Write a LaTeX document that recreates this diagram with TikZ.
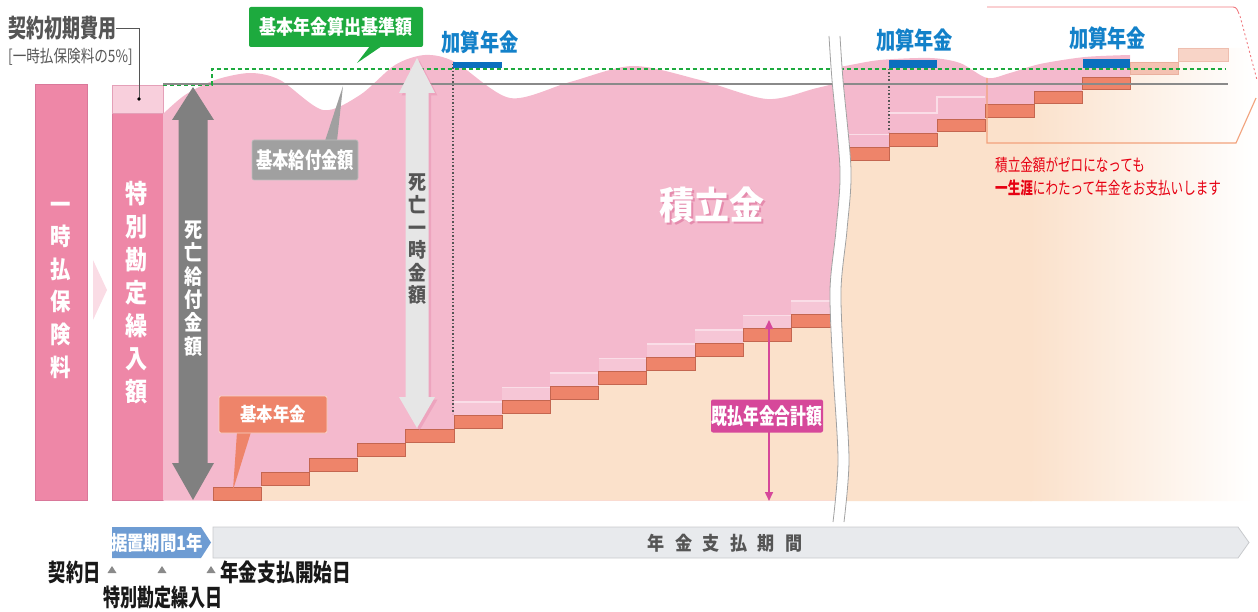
\documentclass[tikz,border=0pt]{standalone}
\usepackage{fontspec}
\setmainfont{Noto Sans CJK JP}
\usepackage{graphicx}
\usetikzlibrary{arrows.meta}
\definecolor{pinkcol}{HTML}{EE87A7}
\definecolor{pinkedge}{HTML}{D9789A}
\definecolor{pinklt}{HTML}{F8CFDC}
\definecolor{pinkarea}{HTML}{F4B9CD}
\definecolor{ghostcol}{HTML}{F6C6D6}
\definecolor{ghostline}{HTML}{FADDE7}
\definecolor{peach}{HTML}{FBE1CB}
\definecolor{stairc}{HTML}{EE846A}
\definecolor{staird}{HTML}{C46650}
\definecolor{stairg}{HTML}{F4C2B2}
\definecolor{stairh}{HTML}{F8D4C7}
\definecolor{darkarrow}{HTML}{808080}
\definecolor{lightarrow}{HTML}{E6E6E6}
\definecolor{greenc}{HTML}{1DAA3E}
\definecolor{bluebar}{HTML}{0B6FBF}
\definecolor{bluetext}{HTML}{1381C9}
\definecolor{magc}{HTML}{D6489A}
\definecolor{redtext}{HTML}{E60012}
\definecolor{redline}{HTML}{F07A80}
\definecolor{orgline}{HTML}{F2A27C}
\definecolor{calloutgray}{HTML}{A0A0A0}
\definecolor{textgray}{HTML}{555555}
\definecolor{blueperiod}{HTML}{6E9CD3}
\definecolor{barfill}{HTML}{E8EAED}
\definecolor{barline}{HTML}{C8CACD}
\definecolor{chev}{HTML}{FADCE5}
\definecolor{linegray}{HTML}{8A8A8A}
\definecolor{fundshadow}{HTML}{E58BAD}
\newcommand{\sx}[2]{\scalebox{#1}[1]{#2}}
\newcommand{\fs}[2]{\fontsize{#1}{#2}\selectfont}
\begin{document}
\begin{tikzpicture}[x=1pt,y=-1pt,
  lbl/.style={inner sep=0pt},
  stairbox/.style={fill=stairc, draw=staird, line width=0.7pt},
  ghostbox/.style={fill=ghostcol},
  callbox/.style={rounded corners=2pt, inner sep=0pt, text=white},
  brkline/.style={draw=linegray!80, line width=0.8pt},
  tri/.style={fill=linegray},
]
\useasboundingbox (0,0) rectangle (1258,612);

% ---------- left columns ----------
\filldraw[fill=pinkcol, draw=pinkedge, line width=0.6pt] (35,84) rectangle (87,500);
\filldraw[fill=pinkcol, draw=pinkedge, line width=0.6pt] (112,113) rectangle (163,500);
\filldraw[fill=pinklt, draw=pinkedge!70, line width=0.6pt] (112,85) rectangle (163,113);
\fill[chev] (93,260) -- (107,290) -- (93,320) -- cycle;

% ---------- left chart area ----------
\begin{scope}
\clip (0,0) -- (829,0) -- plot[smooth] coordinates {(829,36) (832,80) (840,170) (836,230) (830,290) (833,370) (838,460) (833,522)} -- (833,612) -- (0,612) -- cycle;
\fill[pinkarea] plot[smooth] coordinates {(163,114) (185,95) (215,80) (250,73) (280,80) (323,110) (360,95) (395,65) (425,55) (455,62) (510,98) (570,82) (633,66) (700,80) (767,99) (817,88) (870,75)} -- (870,500.5) -- (163,500.5) -- cycle;
\fill[peach] (213,500.5) \foreach \i in {0,...,12} { -- ({213+48.2*\i},{487-14.4*\i}) -- ({261.2+48.2*\i},{487-14.4*\i}) } -- (870,314.2) -- (870,500.5) -- cycle;
\foreach \i in {5,...,12} {
  \fill[ghostcol] ({213+48.2*\i},{473-14.4*\i}) rectangle ({261.2+48.2*\i},{487-14.4*\i});
  \draw[ghostline, line width=1.6pt] ({213+48.2*\i},{473.8-14.4*\i}) -- ({261.2+48.2*\i},{473.8-14.4*\i});
}
\foreach \i in {0,...,12}
  \draw[stairbox] ({213+48.2*\i},{487-14.4*\i}) rectangle ({261.2+48.2*\i},{500-14.4*\i});
\end{scope}

% ---------- right chart area ----------
\begin{scope}
\clip (1258,0) -- (840,0) -- plot[smooth] coordinates {(840,36) (843,80) (851,170) (847,230) (841,290) (844,370) (849,460) (844,522)} -- (844,612) -- (1258,612) -- cycle;
\begin{scope}
\clip (820,501) -- (820,147) -- (889,147) -- (889,133) -- (937,133) -- (937,119) -- (985,119) -- (985,104) -- (1034,104) -- (1034,91) -- (1082,91) -- (1082,77) -- (1130,77) -- (1130,62) -- (1178,62) -- (1178,48) -- (1256,48) -- (1256,501) -- cycle;
\fill[peach] (820,0) rectangle (1032,510);
\shade[left color=peach, right color=white] (1030,0) rectangle (1254,510);
\end{scope}
\fill[pinkarea] (820,147) -- (889,147) -- (889,133) -- (937,133) -- (937,119) -- (985,119) -- (985,104) -- (1034,104) -- (1034,91) -- (1082,91) -- (1082,77) -- (1130,77) -- (1130,55) -- plot[smooth] coordinates {(1130,55) (1085,57) (1040,64) (1010,73) (987,78) (960,63) (930,58) (880,60) (845,66) (820,70)} -- cycle;
\draw[ghostline, line width=1.6pt] (846,134.5) -- (889,134.5);
\draw[ghostline, line width=1.6pt] (889,113) -- (937,113) -- (937,97) -- (985,97);
\draw[stairbox] (846,147) rectangle (889,160);
\draw[stairbox] (889,133) rectangle (937,146);
\draw[stairbox] (937,119) rectangle (985,131.5);
\draw[stairbox] (985,104) rectangle (1034,117);
\draw[stairbox] (1034,91) rectangle (1082,103);
\draw[stairbox] (1082,77) rectangle (1130,89);
\filldraw[fill=stairg, draw=stairg!80!staird, line width=0.6pt] (1130,62) rectangle (1178,74);
\filldraw[fill=stairh, draw=stairh!80!staird, line width=0.6pt] (1178,48) rectangle (1228,61);
\end{scope}

% ---------- red box (lifelong) ----------
\draw[redline, line width=0.9pt] (987,7) -- (1233,7) to[out=0,in=110] (1239,14);
\draw[redline, line width=0.9pt, dash pattern=on 2pt off 2.5pt] (1240,16) -- (1257,80);
\draw[orgline, line width=1.1pt] (987,78) -- (987,143) -- (1236,143) -- (1256,98);

% ---------- dotted guides ----------
\draw[textgray, line width=1.3pt, dash pattern=on 1.3pt off 2.2pt] (453,64) -- (453,414);
\draw[textgray, line width=1.3pt, dash pattern=on 1.3pt off 2.2pt] (889,69) -- (889,132);

% ---------- reference lines ----------
\draw[linegray, line width=1.4pt] (163,84) -- (1228,84);
\draw[greenc, line width=1.4pt, dash pattern=on 4pt off 3pt] (163,85.5) -- (212,85.5) -- (212,69) -- (1225,69);

% ---------- blue bars ----------
\fill[bluebar] (453,62) rectangle (502,68);
\fill[bluebar] (889,60) rectangle (937,68);
\fill[bluebar] (1083,59) rectangle (1130,68);

% ---------- break band ----------
\fill[white] plot[smooth] coordinates {(829,36) (832,80) (840,170) (836,230) (830,290) (833,370) (838,460) (833,522)} -- plot[smooth] coordinates {(844,522) (849,460) (844,370) (841,290) (847,230) (851,170) (843,80) (840,36)} -- cycle;
\draw[brkline] plot[smooth] coordinates {(829,36) (832,80) (840,170) (836,230) (830,290) (833,370) (838,460) (833,522)};
\draw[brkline] plot[smooth] coordinates {(840,36) (843,80) (851,170) (847,230) (841,290) (844,370) (849,460) (844,522)};

% ---------- arrows ----------
\fill[darkarrow] (193,87) -- (214,120) -- (207.5,120) -- (207.5,463) -- (214,463) -- (193,500) -- (172,463) -- (178.5,463) -- (178.5,120) -- (172,120) -- cycle;
\fill[fundshadow, opacity=0.45] (419.5,60.5) -- (437.5,95.5) -- (431,95.5) -- (431,399.5) -- (437.5,399.5) -- (419.5,430.5) -- (401.5,399.5) -- (408,399.5) -- (408,95.5) -- (401.5,95.5) -- cycle;
\fill[lightarrow] (417,58) -- (435,93) -- (428.5,93) -- (428.5,397) -- (435,397) -- (417,428) -- (399,397) -- (405.5,397) -- (405.5,93) -- (399,93) -- cycle;

\coordinate (paidtop) at (769,320);
\coordinate (paidbot) at (769,501);
\draw[magc, line width=1.6pt, {Triangle[length=9pt,width=8pt]}-{Triangle[length=9pt,width=8pt]}] (paidtop) -- (paidbot);

% ---------- vertical texts ----------
\node[lbl, text=white, align=center, font=\fs{24}{32.6}\bfseries] (premium) at (61,290)
  {\sx{0.85}{一}\\\sx{0.85}{時}\\\sx{0.85}{払}\\\sx{0.85}{保}\\\sx{0.85}{険}\\\sx{0.85}{料}};
\node[lbl, text=white, align=center, font=\fs{26}{33}\bfseries] (transfer) at (137,293)
  {\sx{0.85}{特}\\\sx{0.85}{別}\\\sx{0.85}{勘}\\\sx{0.85}{定}\\\sx{0.85}{繰}\\\sx{0.85}{入}\\\sx{0.85}{額}};
\node[lbl, text=white, align=center, font=\fs{21}{23.4}\bfseries] (deathben) at (193.5,288.5)
  {\sx{0.86}{死}\\\sx{0.86}{亡}\\\sx{0.86}{給}\\\sx{0.86}{付}\\\sx{0.86}{金}\\\sx{0.86}{額}};
\node[lbl, text=textgray, align=center, font=\fs{20}{22.6}\bfseries] (deathlump) at (417,239.5)
  {\sx{0.9}{死}\\\sx{0.9}{亡}\\\sx{0.9}{一}\\\sx{0.9}{時}\\\sx{0.9}{金}\\\sx{0.9}{額}};

% ---------- callouts ----------
\node[lbl, anchor=west, text=textgray, font=\fs{25}{25}\bfseries] (initcost) at (8,28) {\sx{0.72}{契約初期費用}};
\node[lbl, anchor=west, text=textgray, font=\fs{17}{17}] (initnote) at (8,56.5) {\sx{0.8}{[一時払保険料の5\%]}};
\coordinate (costdot) at (139,99);
\draw[textgray, line width=0.8pt] (initcost.east) -| (costdot);
\fill[black] (costdot) circle (1.8);

\fill[greenc] (370,46) -- (382,46) -- (357,63) -- cycle;
\node[callbox, fill=greenc, minimum width=174pt, minimum height=40pt, font=\fs{20}{20}\bfseries] (basecalc) at (336,27) {\sx{0.85}{基本年金算出基準額}};

\fill[calloutgray] (325,141) -- (337,141) -- (343,86) -- cycle;
\node[callbox, fill=calloutgray, draw=black!25, line width=0.6pt, minimum width=106pt, minimum height=40pt, font=\fs{22}{22}\bfseries] (basebenefit) at (305,160) {\sx{0.74}{基本給付金額}};

\fill[stairc] (237,432) -- (251,432) -- (233,490) -- cycle;
\node[callbox, fill=stairc, draw=stairh, line width=0.8pt, minimum width=108pt, minimum height=37pt, font=\fs{19}{19}\bfseries] (basepension) at (273,414.5) {\sx{0.86}{基本年金}};

\node[callbox, fill=magc, minimum width=112pt, minimum height=33pt, font=\fs{22}{22}\bfseries] (paidtotal) at (767,416) {\sx{0.72}{既払年金合計額}};

\node[lbl, text=bluetext, font=\fs{24}{24}\bfseries] (add1) at (480,42.5) {\sx{0.8}{加算年金}};
\node[lbl, text=bluetext, font=\fs{24}{24}\bfseries] (add2) at (914.5,40) {\sx{0.8}{加算年金}};
\node[lbl, text=bluetext, font=\fs{24}{24}\bfseries] (add3) at (1107.5,38.5) {\sx{0.8}{加算年金}};

\node[lbl, text=fundshadow, font=\fs{38}{38}\bfseries] (fundsh) at (714,207) {\sx{0.92}{積立金}};
\node[lbl, text=white, font=\fs{38}{38}\bfseries] (fund) at (712,205) {\sx{0.92}{積立金}};

\node[lbl, anchor=west, text=redtext, font=\fs{17}{17}] (msg1) at (995,165) {\sx{0.74}{積立金額がゼロになっても}};
\node[lbl, anchor=west, text=redtext, font=\fs{17}{17}] (msg2) at (995,188.5) {\sx{0.74}{\textbf{一生涯}にわたって年金をお支払いします}};

% ---------- timeline ----------
\fill[blueperiod] (112,527) -- (201,527) -- (211,542.5) -- (201,558) -- (112,558) -- cycle;
\node[lbl, text=white, font=\fs{20}{20}\bfseries] (deferral) at (157,542.5) {\sx{0.82}{据置期間1年}};
\filldraw[fill=barfill, draw=barline, line width=0.8pt] (213,527) -- (1238,527) -- (1249,542.5) -- (1238,558) -- (213,558) -- cycle;
\node[lbl, text=textgray, font=\fs{19}{19}\bfseries] (payperiod) at (725,543)
  {\sx{0.9}{年\hspace{11.5pt}金\hspace{11.5pt}支\hspace{11.5pt}払\hspace{11.5pt}期\hspace{11.5pt}間}};

\fill[tri] (107.5,573) -- (116.5,573) -- (112,566) -- cycle;
\fill[tri] (157.5,573) -- (166.5,573) -- (162,566) -- cycle;
\fill[tri] (206.5,573) -- (215.5,573) -- (211,566) -- cycle;
\node[lbl, anchor=east, text=black!90, font=\fs{24}{24}\bfseries] (contractday) at (101,572) {\sx{0.72}{契約日}};
\node[lbl, anchor=west, text=black!90, font=\fs{24}{24}\bfseries] (transferday) at (103,597) {\sx{0.71}{特別勘定繰入日}};
\node[lbl, anchor=west, text=black!90, font=\fs{24}{24}\bfseries] (startday) at (220,572) {\sx{0.78}{年金支払開始日}};
\end{tikzpicture}
\end{document}
